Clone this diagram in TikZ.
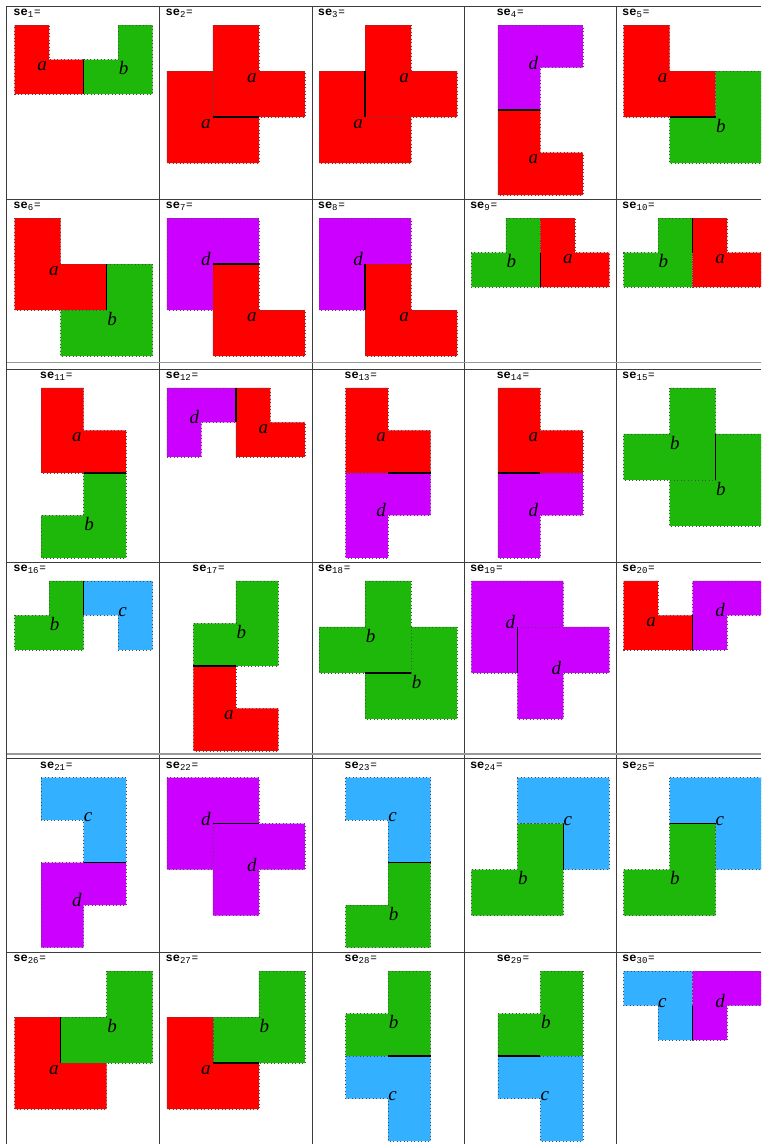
\documentclass[tikz,border=0pt]{standalone}
\usepackage{fontspec}
\setmainfont{Liberation Serif}
\newfontfamily\monofont{Liberation Mono}
\usepackage{tikz}
\definecolor{tilered}{RGB}{255,0,0}
\definecolor{tilegreen}{RGB}{30,184,10}
\definecolor{tileblue}{RGB}{51,176,255}
\definecolor{tilepurple}{RGB}{204,0,255}
\definecolor{rulegray}{RGB}{60,60,60}
\newcommand{\sesub}[1]{\raisebox{-2.2pt}{\mdseries\fontsize{9}{9}\selectfont #1}}
% one cell: index, column, row, width and height in squares, pieces
\newcommand{\secell}[6]{%
  \pgfmathsetmacro{\sq}{min(138/#4,170/#5)}%
  \pgfmathsetmacro{\cellx}{83.7+152.2*#2-\sq*#4/2}%
  \pgfmathsetmacro{\celly}{{6.3,199.3,369,562,758.7,952.3}[#3]}%
  \node[selabel] (se#1) at (\cellx-1.5,\celly+9.3) {se\sesub{#1}\kern0.8pt{\mdseries\fontsize{11}{11}\selectfont=}};
  \begin{scope}[shift={(\cellx,\celly+18.8)}, x=\sq pt, y=-\sq pt]
    #6
  \end{scope}}

\begin{document}
\begin{tikzpicture}[
  x=1pt, y=-1pt,
  tile/.style={draw=black!70, line width=0.6pt, dash pattern=on 0.9pt off 2.6pt},
  tilelabel/.style={font=\fontsize{19}{19}\selectfont\itshape, inner sep=2pt},
  seam/.style={draw=black, line width=1.4pt},
  rule/.style={draw=rulegray, line width=0.8pt},
  breakrule/.style={draw=gray!80, line width=1.6pt},
  selabel/.style={font=\monofont\bfseries\fontsize{12}{12}\selectfont, anchor=base west, inner sep=0pt},
  pics/tile a/.style={code={
    \filldraw[tile, fill=tilered] (0,0) -- (1,0) -- (1,1) -- (2,1) -- (2,2) -- (0,2) -- cycle;
    \node[tilelabel, anchor=north east] (-lbl) at (1,1) {a};}},
  pics/tile b/.style={code={
    \filldraw[tile, fill=tilegreen] (1,0) -- (2,0) -- (2,2) -- (0,2) -- (0,1) -- (1,1) -- cycle;
    \node[tilelabel, anchor=north west, inner xsep=0.5pt] (-lbl) at (1,1) {b};}},
  pics/tile c/.style={code={
    \filldraw[tile, fill=tileblue] (0,0) -- (2,0) -- (2,2) -- (1,2) -- (1,1) -- (0,1) -- cycle;
    \node[tilelabel, anchor=base west, inner xsep=0pt] (-lbl) at ([yshift=-1.5pt]1,1) {c};}},
  pics/tile d/.style={code={
    \filldraw[tile, fill=tilepurple] (0,0) -- (2,0) -- (2,1) -- (1,1) -- (1,2) -- (0,2) -- cycle;
    \node[tilelabel, anchor=base east] (-lbl) at ([yshift=-1.5pt]1,1) {d};}}
]
\useasboundingbox (0,0) rectangle (761,1144);
\clip (0,0) rectangle (761,1144);

% table rules
\foreach \x in {159.8,312,464.2,616.4}
  \draw[rule] (\x,6.3) -- (\x,1144);
\draw[rule, line width=1.3pt] (6.7,6.3) -- (6.7,1144);
\foreach \y in {6.3,199.3,369,562,758.7,952.3}
  \draw[rule] (6.7,\y) -- (761,\y);
\foreach \y in {362.6,753.8}
  \draw[breakrule] (6.7,\y) -- (761,\y);

% first block
\secell{1}{0}{0}{4}{2}{\pic (t1a) at (0,0) {tile a}; \pic (t1b) at (2,0) {tile b}; \draw[seam] (2,1) -- (2,2);}
\secell{2}{1}{0}{3}{3}{\pic (t2a) at (1,0) {tile a}; \pic (t2b) at (0,1) {tile a}; \draw[seam] (1,2) -- (2,2);}
\secell{3}{2}{0}{3}{3}{\pic (t3a) at (1,0) {tile a}; \pic (t3b) at (0,1) {tile a}; \draw[seam] (1,1) -- (1,2);}
\secell{4}{3}{0}{2}{4}{\pic (t4a) at (0,0) {tile d}; \pic (t4b) at (0,2) {tile a}; \draw[seam] (0,2) -- (1,2);}
\secell{5}{4}{0}{3}{3}{\pic (t5a) at (0,0) {tile a}; \pic (t5b) at (1,1) {tile b}; \draw[seam] (1,2) -- (2,2);}
\secell{6}{0}{1}{3}{3}{\pic (t6a) at (0,0) {tile a}; \pic (t6b) at (1,1) {tile b}; \draw[seam] (2,1) -- (2,2);}
\secell{7}{1}{1}{3}{3}{\pic (t7a) at (0,0) {tile d}; \pic (t7b) at (1,1) {tile a}; \draw[seam] (1,1) -- (2,1);}
\secell{8}{2}{1}{3}{3}{\pic (t8a) at (0,0) {tile d}; \pic (t8b) at (1,1) {tile a}; \draw[seam] (1,1) -- (1,2);}
\secell{9}{3}{1}{4}{2}{\pic (t9a) at (0,0) {tile b}; \pic (t9b) at (2,0) {tile a}; \draw[seam] (2,1) -- (2,2);}
\secell{10}{4}{1}{4}{2}{\pic (t10a) at (0,0) {tile b}; \pic (t10b) at (2,0) {tile a}; \draw[seam] (2,0) -- (2,1);}

% second block
\secell{11}{0}{2}{2}{4}{\pic (t11a) at (0,0) {tile a}; \pic (t11b) at (0,2) {tile b}; \draw[seam] (1,2) -- (2,2);}
\secell{12}{1}{2}{4}{2}{\pic (t12a) at (0,0) {tile d}; \pic (t12b) at (2,0) {tile a}; \draw[seam] (2,0) -- (2,1);}
\secell{13}{2}{2}{2}{4}{\pic (t13a) at (0,0) {tile a}; \pic (t13b) at (0,2) {tile d}; \draw[seam] (1,2) -- (2,2);}
\secell{14}{3}{2}{2}{4}{\pic (t14a) at (0,0) {tile a}; \pic (t14b) at (0,2) {tile d}; \draw[seam] (0,2) -- (1,2);}
\secell{15}{4}{2}{3}{3}{\pic (t15a) at (0,0) {tile b}; \pic (t15b) at (1,1) {tile b}; \draw[seam] (2,1) -- (2,2);}
\secell{16}{0}{3}{4}{2}{\pic (t16a) at (0,0) {tile b}; \pic (t16b) at (2,0) {tile c}; \draw[seam] (2,0) -- (2,1);}
\secell{17}{1}{3}{2}{4}{\pic (t17a) at (0,0) {tile b}; \pic (t17b) at (0,2) {tile a}; \draw[seam] (0,2) -- (1,2);}
\secell{18}{2}{3}{3}{3}{\pic (t18a) at (0,0) {tile b}; \pic (t18b) at (1,1) {tile b}; \draw[seam] (1,2) -- (2,2);}
\secell{19}{3}{3}{3}{3}{\pic (t19a) at (0,0) {tile d}; \pic (t19b) at (1,1) {tile d}; \draw[seam] (1,1) -- (1,2);}
\secell{20}{4}{3}{4}{2}{\pic (t20a) at (0,0) {tile a}; \pic (t20b) at (2,0) {tile d}; \draw[seam] (2,1) -- (2,2);}

% third block
\secell{21}{0}{4}{2}{4}{\pic (t21a) at (0,0) {tile c}; \pic (t21b) at (0,2) {tile d}; \draw[seam] (1,2) -- (2,2);}
\secell{22}{1}{4}{3}{3}{\pic (t22a) at (0,0) {tile d}; \pic (t22b) at (1,1) {tile d}; \draw[seam] (1,1) -- (2,1);}
\secell{23}{2}{4}{2}{4}{\pic (t23a) at (0,0) {tile c}; \pic (t23b) at (0,2) {tile b}; \draw[seam] (1,2) -- (2,2);}
\secell{24}{3}{4}{3}{3}{\pic (t24a) at (1,0) {tile c}; \pic (t24b) at (0,1) {tile b}; \draw[seam] (2,1) -- (2,2);}
\secell{25}{4}{4}{3}{3}{\pic (t25a) at (1,0) {tile c}; \pic (t25b) at (0,1) {tile b}; \draw[seam] (1,1) -- (2,1);}
\secell{26}{0}{5}{3}{3}{\pic (t26a) at (1,0) {tile b}; \pic (t26b) at (0,1) {tile a}; \draw[seam] (1,1) -- (1,2);}
\secell{27}{1}{5}{3}{3}{\pic (t27a) at (1,0) {tile b}; \pic (t27b) at (0,1) {tile a}; \draw[seam] (1,2) -- (2,2);}
\secell{28}{2}{5}{2}{4}{\pic (t28a) at (0,0) {tile b}; \pic (t28b) at (0,2) {tile c}; \draw[seam] (1,2) -- (2,2);}
\secell{29}{3}{5}{2}{4}{\pic (t29a) at (0,0) {tile b}; \pic (t29b) at (0,2) {tile c}; \draw[seam] (0,2) -- (1,2);}
\secell{30}{4}{5}{4}{2}{\pic (t30a) at (0,0) {tile c}; \pic (t30b) at (2,0) {tile d}; \draw[seam] (2,1) -- (2,2);}
\end{tikzpicture}
\end{document}
